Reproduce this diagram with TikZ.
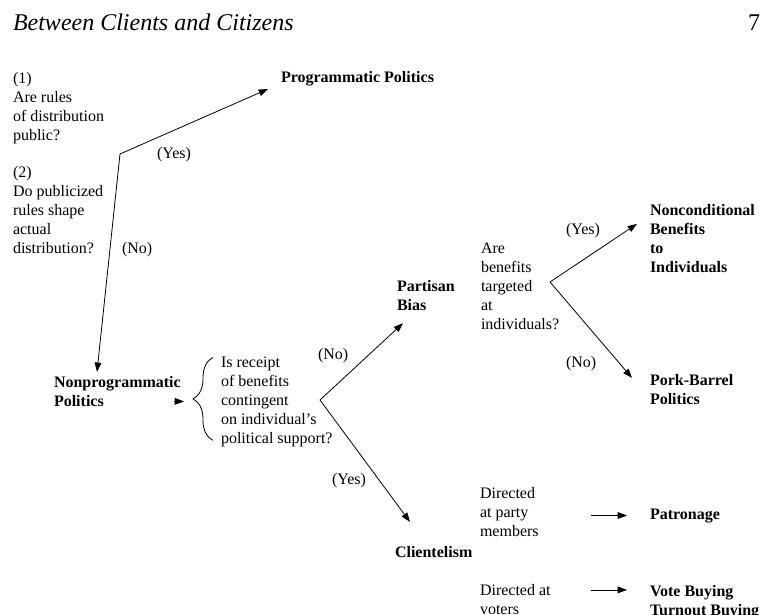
\documentclass[tikz,border=0pt]{standalone}
\usepackage{fontspec}
\setmainfont{Liberation Serif}
\usepackage{tikz}
\usetikzlibrary{arrows.meta,positioning,calc,decorations.pathreplacing}

\begin{document}
\begin{tikzpicture}[
  x=0.75pt, y=-0.75pt,
  txt/.style={font=\fontsize{12}{14.25}\selectfont, inner sep=0pt,
              outer sep=0pt, anchor=base west, align=left},
  term/.style={txt, font=\fontsize{12}{14.25}\selectfont\bfseries},
  head/.style={txt, font=\fontsize{18}{21}\selectfont},
  arr/.style={-{Triangle[length=7pt,width=5pt]}, line width=0.6pt},
  brc/.style={decorate, decoration={brace, amplitude=15pt}, line width=0.6pt},
]
\useasboundingbox (0,0) rectangle (767,614);

\node[head, font=\fontsize{18}{21}\selectfont\itshape] (title) at (13,31) {Between Clients and Citizens};
\node[head, anchor=base east] (page) at (760,31) {7};

\node[txt]  (q1)   at (13,140)  {(1)\\Are rules\\of distribution\\public?};
\node[txt]  (q2)   at (13,253)  {(2)\\Do publicized\\rules shape\\actual\\distribution?};
\node[txt]  (yes1) at (157,158) {(Yes)};
\node[txt]  (no1)  at (122,253) {(No)};
\node[term] (prog) at (281,82)  {Programmatic Politics};
\node[term] (np)   at (54,406)  {Nonprogrammatic\\Politics};
\node[txt]  (bq)   at (221,443) {Is receipt\\of benefits\\contingent\\on individual's\\political support?};
\node[txt]  (no2)  at (318,359) {(No)};
\node[txt]  (yes2) at (332,484) {(Yes)};
\node[term] (pb)   at (397,310) {Partisan\\Bias};
\node[txt]  (q3)   at (481,329) {Are\\benefits\\targeted\\at\\individuals?};
\node[txt]  (yes3) at (566,234) {(Yes)};
\node[txt]  (no3)  at (566,367) {(No)};
\node[term] (ncb)  at (650,272) {Nonconditional\\Benefits\\to\\Individuals};
\node[term] (pork) at (650,404) {Pork-Barrel\\Politics};
\node[term] (cl)   at (395,557) {Clientelism};
\node[txt]  (dp)   at (480,536) {Directed\\at party\\members};
\node[term] (pat)  at (650,519) {Patronage};
\node[txt]  (dv)   at (480,614) {Directed at\\voters};
\node[term] (vb)   at (650,615) {Vote Buying\\Turnout Buying};

\coordinate (j1) at (120,154);
\coordinate (j2) at (320,400);
\coordinate (j3) at (550,282);
\coordinate (btip) at ($(bq.north west)+(-28,45)$);

\draw[arr] (j1) -- ($(prog.south west)+(-13,3.5)$);
\draw[arr] (j1) -- ($(np.north west)+(43,-4)$);
\draw[brc] ($(bq.south west)+(-8,-6)$) -- ($(bq.north west)+(-8,1)$);
\draw[arr] ($(np.east |- btip)+(-7,0)$) -- ($(btip)+(-9,0)$);
\draw[arr] (j2) -- ($(pb.south west)+(6,13)$);
\draw[arr] (j2) -- ($(cl.north west)+(15,-24)$);
\draw[arr] (j3) -- ($(ncb.north west)+(-13,20)$);
\draw[arr] (j3) -- ($(pork.north west)+(-18,4)$);
\draw[arr] ($(dp.east |- pat.west)+(52,0)$) -- ($(pat.west)+(-23,0)$);
\draw[arr] ($(dv.north east |- vb.north west)+(40,5)$) -- ($(vb.north west)+(-23,5)$);
\end{tikzpicture}
\end{document}
